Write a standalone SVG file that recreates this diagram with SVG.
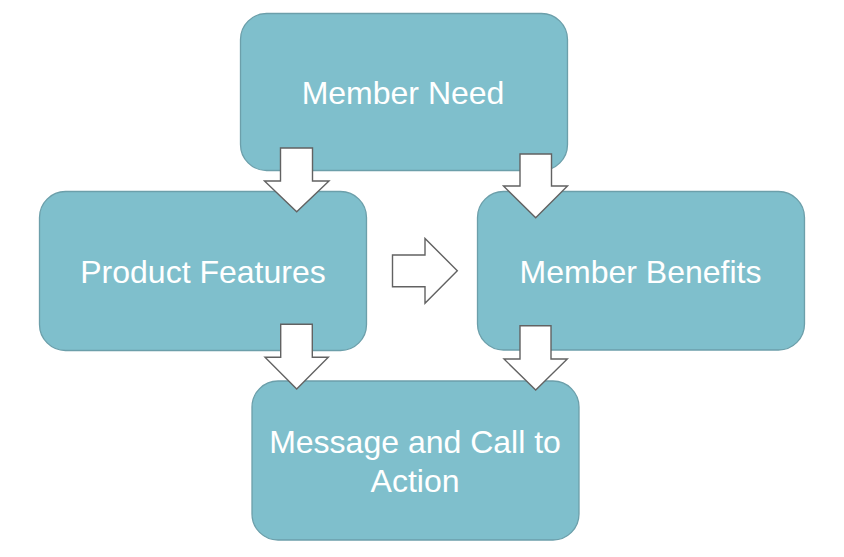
<svg xmlns="http://www.w3.org/2000/svg" width="844" height="557" viewBox="0 0 844 557">
<style>
.box{fill:#7fbfcc;stroke:#6c9faa;stroke-width:1.3}
.lbl{font-family:"Liberation Sans",Arial,sans-serif;font-size:32px;fill:#ffffff;text-anchor:middle}
.arr{fill:#ffffff;stroke:#626262;stroke-width:1.4;stroke-linejoin:miter}
</style>
<rect width="844" height="557" fill="#ffffff"/>
<g id="member-need">
<rect class="box" x="240.5" y="13.5" width="327" height="157" rx="26" ry="26"/>
<text class="lbl" x="403" y="104">Member Need</text>
</g>
<g id="product-features">
<rect class="box" x="39.5" y="191.5" width="327" height="159" rx="26" ry="26"/>
<text class="lbl" x="203" y="283">Product Features</text>
</g>
<g id="member-benefits">
<rect class="box" x="477.5" y="191.5" width="327" height="158.5" rx="26" ry="26"/>
<text class="lbl" x="640.5" y="283">Member Benefits</text>
</g>
<g id="message-call-to-action">
<rect class="box" x="252" y="381" width="327" height="159" rx="26" ry="26"/>
<text class="lbl" x="415" y="453.3">Message and Call to</text>
<text class="lbl" x="415" y="491.7">Action</text>
</g>
<g id="connectors">
<polygon class="arr" points="280.5,148 312.5,148 312.5,181 329,181 296.7,211.7 264.5,181 280.5,181"/>
<polygon class="arr" points="520,154 551.5,154 551.5,186 567.5,186 535.7,217.7 503.5,186 520,186"/>
<polygon class="arr" points="392.5,255 425,255 425,238.5 457.3,270.7 425,303.3 425,286.7 392.5,286.7"/>
<polygon class="arr" points="280.7,324.3 312.3,324.3 312.3,357.3 328.3,357.3 296.7,389 265,357.3 280.7,357.3"/>
<polygon class="arr" points="520,325.7 551,325.7 551,359 567.3,359 535.7,390 504,359 520,359"/>
</g>
</svg>
